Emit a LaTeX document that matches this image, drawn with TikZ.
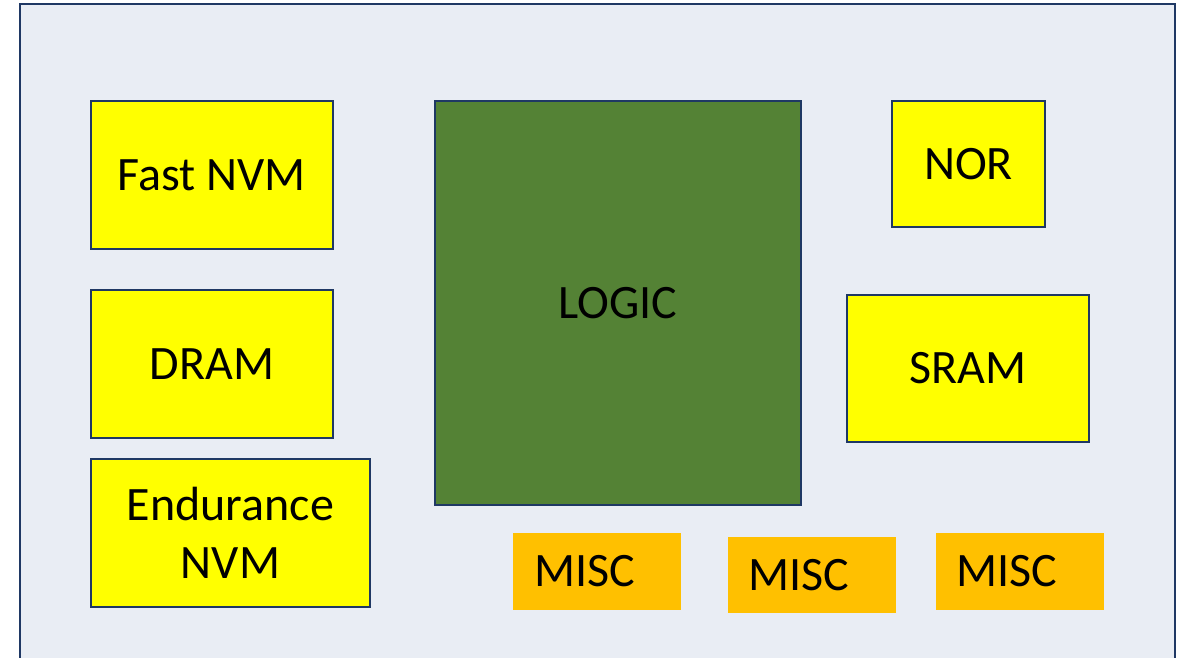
\documentclass[tikz,border=0pt]{standalone}
\usepackage{fontspec}
\setmainfont{Carlito}
\usepackage{xcolor}
\usetikzlibrary{positioning}
\definecolor{navy}{HTML}{1F3864}
\definecolor{diebg}{HTML}{E9EDF4}
\definecolor{memyellow}{HTML}{FFFF00}
\definecolor{logicgreen}{HTML}{548235}
\definecolor{miscorange}{HTML}{FFC000}

\begin{document}
\begin{tikzpicture}[x=1pt, y=-1pt,
    font=\fontsize{48}{58}\selectfont,
    mem/.style={draw=navy, line width=2pt, fill=memyellow, align=center, inner sep=0pt},
    misc/.style={fill=miscorange, align=left, inner xsep=21pt, inner ysep=0pt,
      text width=126pt, minimum height=77pt}]
% page size in pixels of the reference (1px = 1pt)
\useasboundingbox (0,0) rectangle (1179,657);
\clip (0,0) rectangle (1179,657);
% die outline
\draw[navy, line width=2pt, fill=diebg] (20,4) rectangle (1175,680);
% memories on the left
\node[mem, minimum width=242pt, minimum height=148pt] (fastnvm) at (212,175) {Fast NVM};
\node[mem, minimum width=242pt, minimum height=148pt] (dram) at (212,364) {DRAM};
\node[mem, minimum width=279pt, minimum height=148pt] (endnvm) at (230.5,533) {Endurance\\NVM};
% logic core
\node[mem, fill=logicgreen, minimum width=366pt, minimum height=404pt] (logic) at (618,303) {LOGIC};
% memories on the right
\node[mem, minimum width=153pt, minimum height=126pt] (nor) at (968.5,164) {NOR};
\node[mem, minimum width=242pt, minimum height=147pt] (sram) at (968,368.5) {SRAM};
% misc blocks
\node[misc] (misca) at (597,571.5) {MISC};
\node[misc, minimum height=76pt] (miscb) at (811.5,575) {MISC};
\node[misc] (miscc) at (1019.5,571.5) {MISC};
\end{tikzpicture}
\end{document}
